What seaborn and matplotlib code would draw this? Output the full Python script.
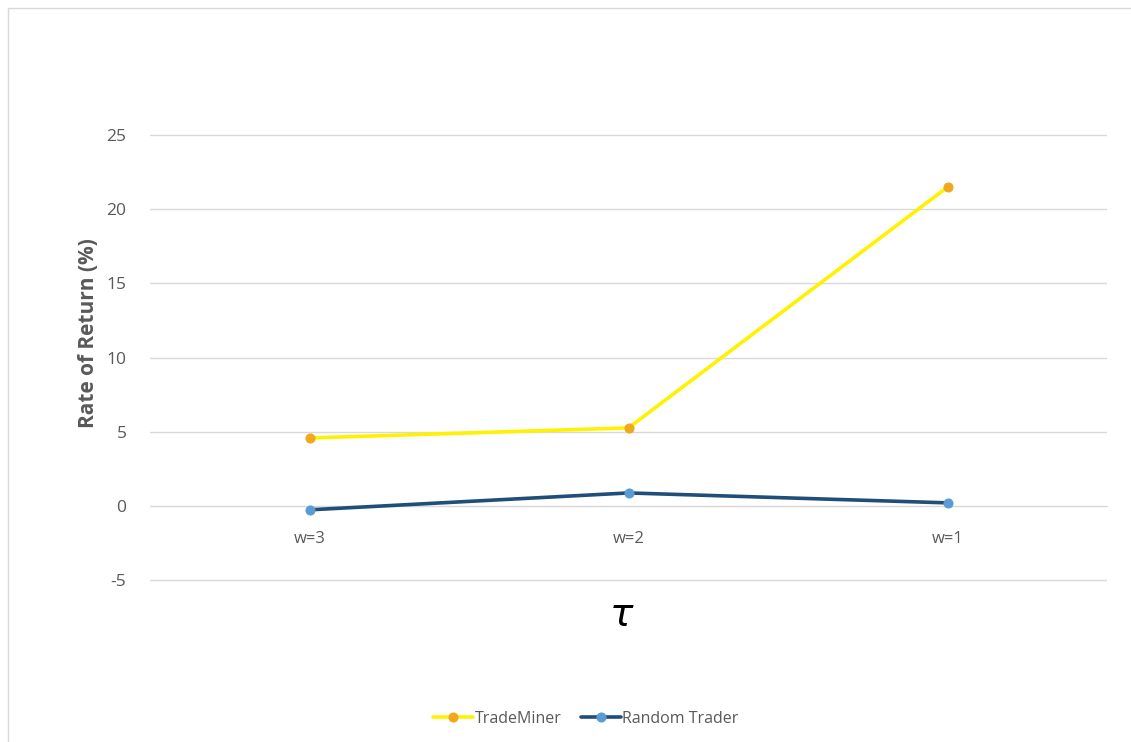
import pandas as pd
import seaborn as sns
import numpy as np
from matplotlib import pyplot as plt
from matplotlib.lines import Line2D

categories = ['w=3', 'w=2', 'w=1']
trademiner = [4.57, 5.25, 21.5]
random_trader = [-0.28, 0.86, 0.19]
yticks = [-5, 0, 5, 10, 15, 20, 25]

df = pd.DataFrame({'tau': categories * 2,
                   'ret': trademiner + random_trader,
                   'series': ['TradeMiner'] * 3 + ['Random Trader'] * 3})

sns.set_style('white')
plt.rcParams['font.family'] = ['Open Sans', 'DejaVu Sans']

fig = plt.figure(figsize=(11.31, 7.42), dpi=100)
ax = fig.add_axes([150/1131, 1 - 582/742, (1107-150)/1131, 449/742])

styles = {'TradeMiner': ('#FFF200', '#F0A81C'),
          'Random Trader': ('#1F4E79', '#5B9BD5')}
for name, (lc, mc) in styles.items():
    sub = df[df['series'] == name]
    sns.lineplot(data=sub, x='tau', y='ret', ax=ax, color=lc, linewidth=2.6,
                 marker='o', markersize=6.5, markerfacecolor=mc, markeredgecolor=mc,
                 label=name, zorder=3)

ax.set_xlim(-0.5, 2.5)
ax.set_ylim(-5.15, 25.15)
ax.set_yticks(yticks)
ax.set_yticklabels([str(v) for v in yticks])
ax.grid(axis='y', color='#D9D9D9', linewidth=1)
for s in ['top', 'right', 'left']:
    ax.spines[s].set_visible(False)
ax.spines['bottom'].set_position(('data', 0))
ax.spines['bottom'].set_color('#D9D9D9')
ax.tick_params(axis='y', length=0, pad=17, labelsize=12.5, labelcolor='#595959')
ax.tick_params(axis='x', length=0, pad=18, labelsize=12, labelcolor='#595959')

ax.set_xlabel('')
ax.set_ylabel('Rate of Return (%)', fontsize=15, fontweight='bold', color='#595959')
ax.yaxis.set_label_coords(-0.053, 0.555)
fig.text(622/1131, 1 - 616/742, r'$\tau$', fontsize=28, ha='center', va='center', color='#000000')

ax.legend(loc='center', bbox_to_anchor=(586/1131, 1 - 719/742), bbox_transform=fig.transFigure,
          ncol=2, frameon=False, fontsize=11.5, handlelength=2.5, handletextpad=0.1,
          columnspacing=1.2, labelcolor='#595959')

fig.add_artist(Line2D([8/1131, 1], [1 - 8/742] * 2, transform=fig.transFigure, color='#D9D9D9', linewidth=1))
fig.add_artist(Line2D([8/1131] * 2, [0, 1 - 8/742], transform=fig.transFigure, color='#D9D9D9', linewidth=1))

fig.savefig('out.png', dpi=100)
